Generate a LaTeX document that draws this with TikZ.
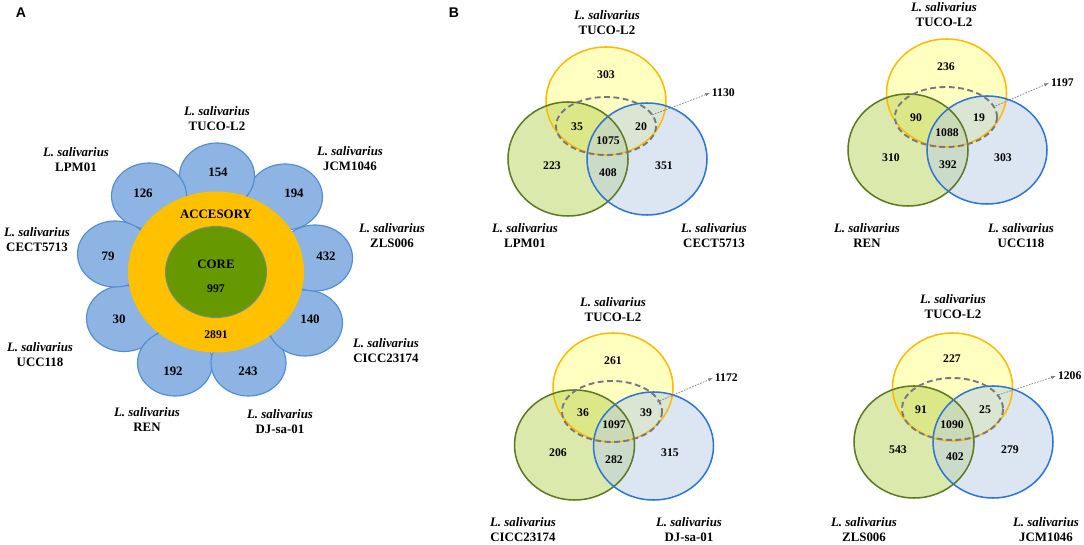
\documentclass[tikz,border=0pt]{standalone}
\usepackage{fontspec}
\setmainfont{Liberation Serif}
\newfontfamily\panelfont{Liberation Sans}
\usetikzlibrary{arrows.meta}

\definecolor{petalfill}{RGB}{141,180,226}
\definecolor{petalline}{RGB}{84,141,212}
\definecolor{accorange}{RGB}{255,192,0}
\definecolor{coregreen}{RGB}{102,153,0}
\definecolor{coreline}{RGB}{125,140,125}
\definecolor{tucofill}{RGB}{255,255,192}
\definecolor{tucoline}{RGB}{255,186,0}
\definecolor{leftfill}{RGB}{178,206,70}
\definecolor{leftline}{RGB}{94,120,36}
\definecolor{rightfill}{RGB}{185,205,230}
\definecolor{rightline}{RGB}{46,117,214}
\definecolor{sharedline}{RGB}{118,118,132}

\begin{document}
\begin{tikzpicture}[x=0.03cm, y=-0.03cm,
    lbl/.style={align=center, inner sep=0pt, font=\fontsize{11}{12.6}\selectfont\bfseries},
    pnum/.style={inner sep=0pt, font=\fontsize{11}{13}\selectfont\bfseries},
    vnum/.style={inner sep=0pt, font=\fontsize{10}{12}\selectfont\bfseries},
    panel/.style={inner sep=0pt, font=\fontsize{12}{14}\selectfont\panelfont\bfseries},
    petal/.style={fill=petalfill, draw=petalline, line width=1pt},
    tuco/.style={fill=tucofill},
    leftset/.style={fill=leftfill, fill opacity=0.45},
    rightset/.style={fill=rightfill, fill opacity=0.5},
    shared/.style={draw=sharedline, line width=1.6pt, dash pattern=on 5pt off 3pt},
    totarrow/.style={draw=gray, line width=0.6pt, dash pattern=on 1.5pt off 1pt, -{Latex[length=4pt, width=3pt]}}]
    \useasboundingbox (0,0) rectangle (1084,545);

    \node[panel] (A) at (21,13) {A};
    \node[panel] (B) at (454,13) {B};

    \foreach \px/\py in {124/318.5, 175/363, 248.5/363, 305/323, 315/258, 285/197, 217/176, 149/196, 115/254}
        \draw[petal] (\px,\py) ellipse [x radius=37.5, y radius=33];
    \fill[accorange] (216,272) ellipse [x radius=88, y radius=80.5];
    \draw[fill=coregreen, draw=coreline, line width=0.8pt] (216,272) ellipse [x radius=50.5, y radius=45.5];

    \node[pnum] (n154) at (218,172) {154};
    \node[pnum] (n194) at (294,193) {194};
    \node[pnum] (n432) at (326,256) {432};
    \node[pnum] (n140) at (310,319) {140};
    \node[pnum] (n243) at (248,371) {243};
    \node[pnum] (n192) at (173,371) {192};
    \node[pnum] (n30) at (119,319) {30};
    \node[pnum] (n79) at (108,256) {79};
    \node[pnum] (n126) at (143,193) {126};
    \node[pnum] (acc) at (216,214) {ACCESORY};
    \node[pnum] (core) at (216,264) {CORE};
    \node[vnum] (ncore) at (216,289) {997};
    \node[vnum] (nacc) at (216,335) {2891};

    \node[lbl] (aTUCO) at (217,118.5) {\textit{L. salivarius}\\TUCO-L2};
    \node[lbl] (aLPM) at (76,159.5) {\textit{L. salivarius}\\LPM01};
    \node[lbl] (aJCM) at (350,158.5) {\textit{L. salivarius}\\JCM1046};
    \node[lbl] (aZLS) at (392,235.5) {\textit{L. salivarius}\\ZLS006};
    \node[lbl] (aCECT) at (37,239.5) {\textit{L. salivarius}\\CECT5713};
    \node[lbl] (aCICC) at (386,350.5) {\textit{L. salivarius}\\CICC23174};
    \node[lbl] (aUCC) at (40,354.5) {\textit{L. salivarius}\\UCC118};
    \node[lbl] (aREN) at (147,419.5) {\textit{L. salivarius}\\REN};
    \node[lbl] (aDJ) at (280,421.5) {\textit{L. salivarius}\\DJ-sa-01};

    \fill[tuco] (606,101) ellipse [x radius=60, y radius=54];
    \fill[leftset] (568,159) ellipse [x radius=60, y radius=57];
    \fill[rightset] (647,159) ellipse [x radius=60, y radius=56];
    \draw[tucoline, line width=1.3pt] (606,101) ellipse [x radius=60, y radius=54];
    \draw[leftline, line width=1.3pt] (568,159) ellipse [x radius=60, y radius=57];
    \draw[rightline, line width=1.3pt] (647,159) ellipse [x radius=60, y radius=56];
    \draw[shared] (606,126) ellipse [x radius=50, y radius=29];
    \node[vnum] (v1a) at (606,75) {303};
    \node[vnum] (v1b) at (577,127) {35};
    \node[vnum] (v1c) at (641,127) {20};
    \node[vnum] (v1d) at (608,141) {1075};
    \node[vnum] (v1e) at (552,166) {223};
    \node[vnum] (v1f) at (608,173) {408};
    \node[vnum] (v1g) at (664,166) {351};
    \coordinate (v1s) at (652,115);
    \node[vnum, anchor=west, inner sep=1.5pt] (v1t) at (710,93) {1130};
    \draw[totarrow] (v1s) -- (v1t.west);
    \node[lbl] (v1TUCO) at (607,22.5) {\textit{L. salivarius}\\TUCO-L2};
    \node[lbl] (v1LPM) at (525,235.5) {\textit{L. salivarius}\\LPM01};
    \node[lbl] (v1CECT) at (714,235.5) {\textit{L. salivarius}\\CECT5713};

    \fill[tuco] (946.5,93) ellipse [x radius=60, y radius=54];
    \fill[leftset] (908,150) ellipse [x radius=60, y radius=56];
    \fill[rightset] (987,150) ellipse [x radius=60, y radius=54];
    \draw[tucoline, line width=1.3pt] (946.5,93) ellipse [x radius=60, y radius=54];
    \draw[leftline, line width=1.3pt] (908,150) ellipse [x radius=60, y radius=56];
    \draw[rightline, line width=1.3pt] (987,150) ellipse [x radius=60, y radius=54];
    \draw[shared] (946,117) ellipse [x radius=51, y radius=30];
    \node[vnum] (v2a) at (946,67) {236};
    \node[vnum] (v2b) at (916,118) {90};
    \node[vnum] (v2c) at (979,118) {19};
    \node[vnum] (v2d) at (947,133) {1088};
    \node[vnum] (v2e) at (891,158) {310};
    \node[vnum] (v2f) at (948,165) {392};
    \node[vnum] (v2g) at (1003,158) {303};
    \coordinate (v2s) at (993,107);
    \node[vnum, anchor=west, inner sep=1.5pt] (v2t) at (1049,83) {1197};
    \draw[totarrow] (v2s) -- (v2t.west);
    \node[lbl] (v2TUCO) at (944,14.5) {\textit{L. salivarius}\\TUCO-L2};
    \node[lbl] (v2REN) at (867,235.5) {\textit{L. salivarius}\\REN};
    \node[lbl] (v2UCC) at (1021,235.5) {\textit{L. salivarius}\\UCC118};

    \fill[tuco] (613,387.5) ellipse [x radius=60, y radius=54.5];
    \fill[leftset] (574.5,445) ellipse [x radius=60, y radius=55];
    \fill[rightset] (653.5,446) ellipse [x radius=60, y radius=54];
    \draw[tucoline, line width=1.3pt] (613,387.5) ellipse [x radius=60, y radius=54.5];
    \draw[leftline, line width=1.3pt] (574.5,445) ellipse [x radius=60, y radius=55];
    \draw[rightline, line width=1.3pt] (653.5,446) ellipse [x radius=60, y radius=54];
    \draw[shared] (612,411.5) ellipse [x radius=50, y radius=30.5];
    \node[vnum] (v3a) at (613,361) {261};
    \node[vnum] (v3b) at (583,413) {36};
    \node[vnum] (v3c) at (646,413) {39};
    \node[vnum] (v3d) at (614,425) {1097};
    \node[vnum] (v3e) at (558,453) {206};
    \node[vnum] (v3f) at (614,460) {282};
    \node[vnum] (v3g) at (670,453) {315};
    \coordinate (v3s) at (657,402);
    \node[vnum, anchor=west, inner sep=1.5pt] (v3t) at (713,378) {1172};
    \draw[totarrow] (v3s) -- (v3t.west);
    \node[lbl] (v3TUCO) at (613,309.5) {\textit{L. salivarius}\\TUCO-L2};
    \node[lbl] (v3CICC) at (523,529.5) {\textit{L. salivarius}\\CICC23174};
    \node[lbl] (v3DJ) at (689,529.5) {\textit{L. salivarius}\\DJ-sa-01};

    \fill[tuco] (952.5,387) ellipse [x radius=60, y radius=54];
    \fill[leftset] (914,442) ellipse [x radius=60, y radius=56];
    \fill[rightset] (993,442) ellipse [x radius=60, y radius=56];
    \draw[tucoline, line width=1.3pt] (952.5,387) ellipse [x radius=60, y radius=54];
    \draw[leftline, line width=1.3pt] (914,442) ellipse [x radius=60, y radius=56];
    \draw[rightline, line width=1.3pt] (993,442) ellipse [x radius=60, y radius=56];
    \draw[shared] (952.5,409) ellipse [x radius=50.5, y radius=31];
    \node[vnum] (v4a) at (952,359) {227};
    \node[vnum] (v4b) at (921,410) {91};
    \node[vnum] (v4c) at (985,410) {25};
    \node[vnum] (v4d) at (952,425) {1090};
    \node[vnum] (v4e) at (898,450) {543};
    \node[vnum] (v4f) at (955,457) {402};
    \node[vnum] (v4g) at (1010,450) {279};
    \coordinate (v4s) at (998,395);
    \node[vnum, anchor=west, inner sep=1.5pt] (v4t) at (1056,376) {1206};
    \draw[totarrow] (v4s) -- (v4t.west);
    \node[lbl] (v4TUCO) at (953,306.5) {\textit{L. salivarius}\\TUCO-L2};
    \node[lbl] (v4ZLS) at (864,529.5) {\textit{L. salivarius}\\ZLS006};
    \node[lbl] (v4JCM) at (1046,529.5) {\textit{L. salivarius}\\JCM1046};
\end{tikzpicture}
\end{document}
